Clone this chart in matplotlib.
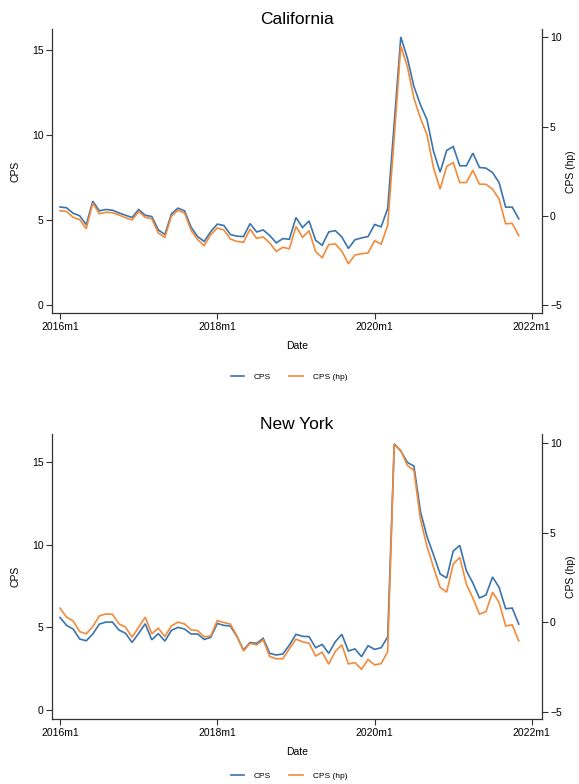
import matplotlib
matplotlib.use('Agg')
import matplotlib.pyplot as plt
import numpy as np

plt.rcParams['font.family'] = ['Liberation Sans', 'DejaVu Sans']

# ---------------- data (monthly, 2016m1 .. 2021m11) ----------------
tick_months = [0, 24, 48, 72]
tick_labels = ["2016m1", "2018m1", "2020m1", "2022m1"]

ca_cps = [5.76, 5.71, 5.39, 5.24, 4.71, 6.10, 5.53, 5.61, 5.57, 5.41,
          5.27, 5.14, 5.61, 5.27, 5.20, 4.41, 4.14, 5.35, 5.69, 5.53,
          4.57, 4.02, 3.73, 4.31, 4.75, 4.67, 4.14, 4.04, 4.02, 4.78,
          4.29, 4.41, 4.08, 3.65, 3.90, 3.86, 5.14, 4.55, 4.94, 3.80,
          3.51, 4.29, 4.37, 4.00, 3.32, 3.83, 3.94, 4.02, 4.73, 4.59,
          5.67, 10.7, 15.75, 14.51, 12.84, 11.76, 10.88, 9.02, 7.80, 9.08,
          9.31, 8.18, 8.18, 8.92, 8.08, 8.04, 7.78, 7.19, 5.75, 5.75,
          5.06]
ca_hp = [0.28, 0.24, -0.09, -0.22, -0.73, 0.71, 0.11, 0.19, 0.17, 0.04,
         -0.11, -0.24, 0.24, -0.09, -0.17, -0.97, -1.21, -0.02, 0.30, 0.15,
         -0.82, -1.34, -1.68, -1.06, -0.69, -0.80, -1.31, -1.44, -1.49, -0.75,
         -1.27, -1.19, -1.53, -2.00, -1.77, -1.85, -0.60, -1.21, -0.84, -2.01,
         -2.35, -1.62, -1.58, -1.98, -2.69, -2.20, -2.13, -2.09, -1.40, -1.59,
         -0.54, 4.4, 9.51, 8.36, 6.59, 5.47, 4.53, 2.67, 1.49, 2.76,
         2.98, 1.86, 1.86, 2.54, 1.77, 1.76, 1.49, 0.93, -0.45, -0.43,
         -1.12]
ny_cps = [5.60, 5.12, 4.90, 4.30, 4.19, 4.60, 5.20, 5.32, 5.32, 4.84,
          4.64, 4.09, 4.64, 5.22, 4.25, 4.62, 4.17, 4.82, 5.00, 4.90,
          4.60, 4.60, 4.27, 4.40, 5.24, 5.12, 5.08, 4.44, 3.63, 4.09,
          4.03, 4.34, 3.43, 3.33, 3.39, 3.93, 4.58, 4.46, 4.44, 3.77,
          3.97, 3.43, 4.13, 4.58, 3.57, 3.70, 3.23, 3.89, 3.67, 3.77,
          4.42, 16.10, 15.67, 14.98, 14.76, 12.00, 10.49, 9.38, 8.23, 7.99,
          9.62, 9.96, 8.43, 7.68, 6.78, 6.96, 8.05, 7.42, 6.13, 6.17,
          5.20]
ny_hp = [0.78, 0.28, 0.07, -0.53, -0.65, -0.25, 0.35, 0.46, 0.44, -0.10,
         -0.28, -0.84, -0.28, 0.28, -0.65, -0.34, -0.80, -0.21, 0.00, -0.10,
         -0.43, -0.47, -0.82, -0.77, 0.09, -0.02, -0.11, -0.77, -1.61, -1.18,
         -1.27, -0.99, -1.92, -2.05, -2.04, -1.49, -0.95, -1.10, -1.18, -1.89,
         -1.68, -2.35, -1.64, -1.27, -2.33, -2.26, -2.63, -2.09, -2.39, -2.32,
         -1.64, 9.92, 9.60, 8.76, 8.48, 5.76, 4.23, 3.06, 1.94, 1.68,
         3.25, 3.62, 2.13, 1.34, 0.45, 0.59, 1.68, 1.10, -0.21, -0.15,
         -1.05]

BLUE = '#3a74ad'
ORANGE = '#f28a3a'
AXC = '#333333'

W, H = 579, 784
fig = plt.figure(figsize=(W / 100, H / 100), dpi=100)


def panel(top_px, bot_px, title, cps, hp, ylim_l, ylim_r, legend_y):
    ax = fig.add_axes([51.7 / W, 1 - bot_px / H, (541.7 - 51.7) / W,
                       (bot_px - top_px) / H])
    ax2 = ax.twinx()
    x = np.arange(len(cps))
    l1, = ax.plot(x, cps, color=BLUE, lw=1.2, solid_joinstyle='miter')
    l2, = ax2.plot(x, hp, color=ORANGE, lw=1.2, solid_joinstyle='miter')
    ax.set_xlim(-1.27, 73.5)
    ax.set_ylim(*ylim_l)
    ax2.set_ylim(*ylim_r)
    ax.set_yticks([0, 5, 10, 15])
    ax2.set_yticks([-5, 0, 5, 10])
    ax.set_xticks(tick_months)
    ax.set_xticklabels(tick_labels)
    for a in (ax, ax2):
        a.spines['top'].set_visible(False)
        for s in a.spines.values():
            s.set_color(AXC)
            s.set_linewidth(0.9)
        a.tick_params(direction='out', length=4, width=0.8, color=AXC,
                      labelsize=7.5, pad=2, labelcolor='black')
    ax2.spines['left'].set_visible(False)
    ax2.spines['bottom'].set_visible(False)
    ax.spines['right'].set_visible(False)
    ax.set_ylabel('CPS', fontsize=7.5, labelpad=8)
    ax2.set_ylabel('CPS (hp)', fontsize=7.5, labelpad=3)
    ax.set_xlabel('Date', fontsize=7.5, labelpad=7)
    ax.set_title(title, fontsize=12.5, pad=4)
    fig.legend([l1, l2], ['CPS', 'CPS (hp)'], loc='center',
               bbox_to_anchor=(289 / W, 1 - legend_y / H), ncol=2,
               frameon=False, fontsize=6, handlelength=1.6,
               columnspacing=2.2, handletextpad=1.2)


panel(29.3, 313.3, 'California', ca_cps, ca_hp, (-0.49, 16.2), (-5.47, 10.45), 377)
panel(434.3, 719.3, 'New York', ny_cps, ny_hp, (-0.56, 16.68), (-5.43, 10.5), 776)

fig.savefig('out.png', dpi=100)
